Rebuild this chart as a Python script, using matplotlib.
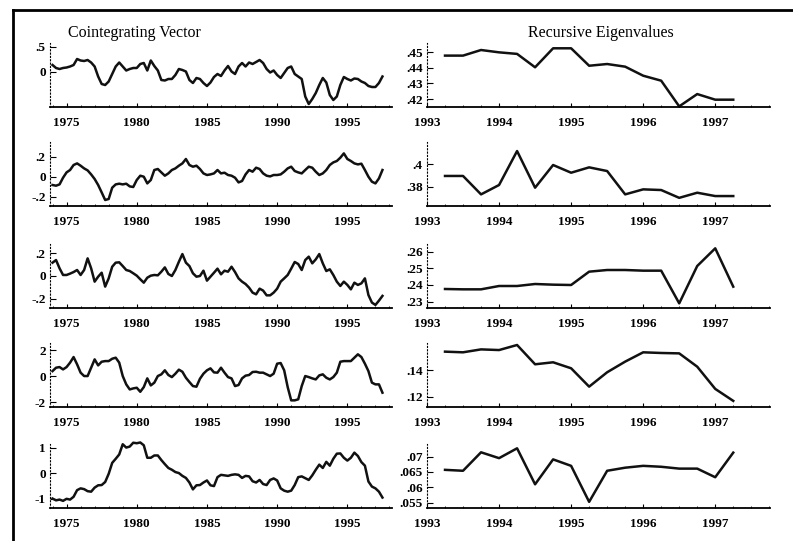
import numpy as np
import matplotlib.pyplot as plt
from matplotlib.ticker import FixedLocator, MultipleLocator

plt.rcParams["font.family"] = "Liberation Serif"

# quarterly dates
vec_dates = 1974 + 0.25 * np.arange(95)
eig_dates = 1993.25 + 0.25 * np.arange(17)

vec1 = [.13, .07, .05, .07, .08, .10, .13, .25, .22, .21,
        .23, .18, .10, -.10, -.25, -.27, -.20, -.05, .10, .18,
        .10, .02, .05, .07, .07, .15, .17, .02, .22, .11,
        .02, -.17, -.18, -.15, -.15, -.07, .05, .03, 0, -.17,
        -.23, -.13, -.15, -.23, -.29, -.22, -.11, -.05, -.09, .02,
        .11, 0, -.05, .10, .17, .10, .18, .15, .19, .23,
        .17, .05, -.02, .02, -.07, -.13, -.03, .07, .10, -.05,
        -.10, -.15, -.50, -.65, -.55, -.43, -.27, -.13, -.22, -.47,
        -.57, -.50, -.27, -.11, -.15, -.18, -.14, -.15, -.20, -.23,
        -.29, -.31, -.31, -.23, -.10]
vec2 = [-.083, -.09, -.077, -.01, .043, .067, .117, .133, .11, .083,
        .063, .023, -.023, -.083, -.157, -.233, -.223, -.11, -.077, -.07,
        -.077, -.07, -.097, -.103, -.033, .01, 0, -.067, -.033, .067,
        .077, .043, .01, .033, .067, .083, .11, .133, .177, .117,
        .10, .11, .077, .033, .017, .023, .033, .067, .033, .04,
        .017, .01, -.01, -.057, -.043, .023, .067, .05, .09, .077,
        .033, .01, .003, .017, .017, .023, .05, .083, .10, .057,
        .043, .033, .067, .10, .09, .05, .017, .033, .067, .117,
        .143, .157, .19, .233, .177, .157, .133, .123, .13, .067,
        0, -.05, -.067, -.017, .067]
vec3 = [.118, .141, .068, .009, .009, .021, .035, .053, .009, .053,
        .156, .068, -.05, -.006, .029, -.094, -.021, .082, .118, .121,
        .088, .053, .044, .024, .003, -.029, -.059, -.015, .003, .009,
        .006, .038, .076, .018, 0, .053, .126, .194, .118, .088,
        .024, -.006, 0, .047, -.041, -.006, .029, .065, .015, .047,
        .038, .082, .035, -.021, -.05, -.071, -.103, -.147, -.162, -.112,
        -.129, -.171, -.171, -.147, -.112, -.05, -.021, .009, .065, .124,
        .106, .053, .141, .171, .112, .147, .194, .112, .044, .059,
        .009, -.05, -.088, -.05, -.079, -.118, -.059, -.079, -.065, -.021,
        -.168, -.235, -.256, -.218, -.176]
vec4 = [.38, .64, .69, .51, .69, 1.03, 1.46, .90, .26, 0,
        0, .64, 1.28, .82, 1.10, 1.15, 1.15, 1.33, 1.41, 1.03,
        0, -.64, -1.03, -.95, -.90, -1.21, -.85, -.18, -.72, -.51,
        0, .13, .44, .08, -.08, .18, .49, .33, -.13, -.46,
        -.77, -.82, -.21, .18, .44, .59, .28, .26, .64, .26,
        -.08, -.18, -.77, -.69, -.18, .03, .08, .31, .33, .26,
        .26, .13, 0, .18, .95, 1.0, .44, -.85, -1.87, -1.87,
        -1.79, -.77, 0, -.08, -.18, -.26, .05, .13, -.13, -.26,
        -.08, .26, 1.10, 1.15, 1.15, 1.15, 1.41, 1.67, 1.46, .95,
        .38, -.51, -.64, -.64, -1.28]
vec5 = [-1.0, -1.07, -1.04, -1.09, -1.01, -1.04, -.93, -.67, -.60, -.63,
        -.71, -.73, -.57, -.48, -.47, -.35, -.03, .40, .56, .73,
        1.13, 1.0, 1.04, 1.19, 1.17, 1.2, 1.09, .60, .60, .69,
        .69, .51, .35, .2, .13, .04, 0, -.11, -.19, -.37,
        -.64, -.48, -.47, -.37, -.29, -.48, -.51, -.16, -.07, -.09,
        -.11, -.07, -.05, -.07, -.19, -.11, -.13, -.32, -.37, -.27,
        -.43, -.47, -.27, -.21, -.29, -.60, -.69, -.73, -.69, -.47,
        -.16, -.13, -.20, -.27, -.09, .13, .33, .20, .44, .29,
        .56, .76, .77, .60, .49, .60, .80, .67, .43, .29,
        -.33, -.53, -.60, -.73, -.96]

eig1 = [.4479, .4479, .4515, .450, .449, .4404, .4526, .4526, .4414,
        .4425, .4408, .435, .4318, .4153, .4232, .4196, .4196]
eig2 = [.3896, .3896, .3731, .3815, .4119, .3791, .3994, .3925, .3973,
        .394, .3731, .3776, .377, .370, .3746, .3716, .3716]
eig3 = [.2376, .2374, .2374, .2394, .2394, .2406, .2402, .24, .248,
        .249, .249, .2486, .2486, .229, .2514, .262, .239]
eig4 = [.1538, .1533, .1555, .155, .1588, .1443, .1458, .1413, .1275,
        .1383, .1463, .1533, .1528, .1525, .1425, .1258, .1168]
eig5 = [.0657, .0654, .0714, .0695, .0727, .061, .0691, .067, .0553,
        .0654, .0664, .067, .0667, .0661, .0661, .0633, .0713]

vec_series = [vec1, vec2, vec3, vec4, vec5]
eig_series = [eig1, eig2, eig3, eig4, eig5]

vec_yticks = [[0.5, 0], [0.2, 0, -0.2], [0.2, 0, -0.2], [2, 0, -2], [1, 0, -1]]
vec_ylabels = [[".5", "0"], [".2", "0", "-.2"], [".2", "0", "-.2"],
               ["2", "0", "-2"], ["1", "0", "-1"]]
eig_yticks = [[.45, .44, .43, .42], [.4, .38], [.26, .25, .24, .23],
              [.14, .12], [.07, .065, .06, .055]]
eig_ylabels = [[".45", ".44", ".43", ".42"], [".4", ".38"],
               [".26", ".25", ".24", ".23"], [".14", ".12"],
               [".07", ".065", ".06", ".055"]]

vec_xticks = [1975, 1980, 1985, 1990, 1995]
eig_xticks = [1993, 1994, 1995, 1996, 1997]

# layout in pixels
W, H = 793, 541
row_bottom = [107, 206, 308, 407, 508]
row_h = 64
vec_ylim = [(-0.71, 0.57), (-0.293, 0.347), (-0.283, 0.283), (-2.38, 2.54), (-1.37, 1.14)]
eig_ylim = [(.4149, .456), (.3627, .420), (.2262, .2646), (.1122, .1603), (.0533, .0741)]

fig = plt.figure(figsize=(W / 100, H / 100), dpi=100)
fig.patch.set_facecolor("white")


def px_axes(x0, x1, yb):
    return fig.add_axes([x0 / W, 1 - yb / H, (x1 - x0) / W, row_h / H])


def style(ax, xt, yt, yl):
    for s in ["top", "right"]:
        ax.spines[s].set_visible(False)
    ax.spines["bottom"].set_linewidth(1.3)
    ax.spines["left"].set_linewidth(0.8)
    ax.spines["left"].set_linestyle((0, (1, 2)))
    ax.xaxis.set_major_locator(FixedLocator(xt))
    ax.yaxis.set_major_locator(FixedLocator(yt))
    ax.set_yticklabels(yl)
    ax.tick_params(axis="x", direction="in", length=3, width=0.8, labelsize=9.5, pad=7)
    ax.tick_params(axis="y", direction="in", length=4, width=0.8, labelsize=9.5, pad=3)
    ax.tick_params(which="minor", direction="in", length=1.5, width=0.6)
    for lab in ax.get_xticklabels() + ax.get_yticklabels():
        lab.set_fontweight("bold")
    ax.set_facecolor("none")


for i in range(5):
    ax = px_axes(50, 392, row_bottom[i])
    ax.plot(vec_dates, vec_series[i], color="#111111", lw=1.8, clip_on=False)
    ax.set_xlim(1973.82, 1998.18)
    ax.set_ylim(*vec_ylim[i])
    style(ax, vec_xticks, vec_yticks[i], vec_ylabels[i])
    ax.xaxis.set_minor_locator(MultipleLocator(1))

    ax = px_axes(427, 770, row_bottom[i])
    ax.plot(eig_dates, eig_series[i], color="#111111", lw=1.8, clip_on=False)
    ax.set_xlim(1993.0, 1997.76)
    ax.set_ylim(*eig_ylim[i])
    style(ax, eig_xticks, eig_yticks[i], eig_ylabels[i])
    ax.xaxis.set_minor_locator(MultipleLocator(0.25))

fig.text(68 / W, 1 - 33 / H, "Cointegrating Vector", fontsize=11.5,
         ha="left", va="center")
fig.text(601 / W, 1 - 33 / H, "Recursive Eigenvalues", fontsize=11.5,
         ha="center", va="center")

# scanned page frame
fig.add_artist(plt.Line2D([13 / W, 13 / W], [0, 1 - 10 / H], color="black", lw=2))
fig.add_artist(plt.Line2D([13 / W, 1], [1 - 10 / H, 1 - 10 / H], color="black", lw=2))

fig.savefig("out.png", dpi=100)
